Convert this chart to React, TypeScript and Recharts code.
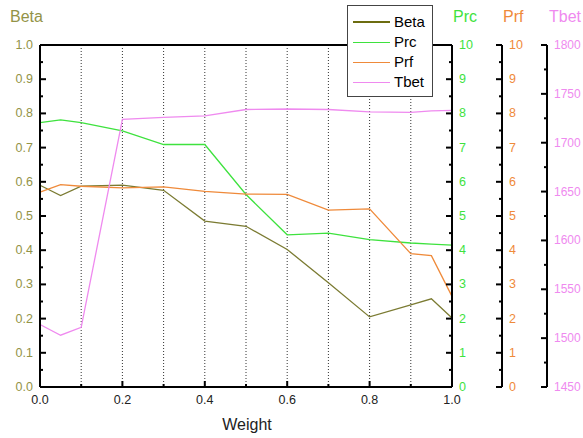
import { LineChart, Line, XAxis, YAxis, CartesianGrid, ReferenceLine, Legend } from "recharts";

const FONT = "'Liberation Sans', Arial, sans-serif";

// data
const weight = [0, 0.05, 0.1, 0.2, 0.3, 0.4, 0.5, 0.6, 0.7, 0.8, 0.9, 0.95, 1.0];
const beta = [0.59, 0.56, 0.587, 0.59, 0.575, 0.485, 0.47, 0.402, 0.305, 0.205, 0.24, 0.258, 0.202];
const prc = [7.73, 7.81, 7.73, 7.49, 7.09, 7.09, 5.63, 4.45, 4.5, 4.31, 4.21, 4.18, 4.15];
const prf = [5.7, 5.92, 5.87, 5.82, 5.85, 5.72, 5.64, 5.63, 5.17, 5.21, 3.9, 3.84, 2.65];
const tbet = [1514, 1503, 1511, 1724, 1726, 1727.5, 1734, 1734.5, 1734, 1731.5, 1731, 1732.5, 1733];

const weightTicks = [0, 0.1, 0.2, 0.3, 0.4, 0.5, 0.6, 0.7, 0.8, 0.9, 1.0];
const betaTicks = [0, 0.05, 0.1, 0.15, 0.2, 0.25, 0.3, 0.35, 0.4, 0.45, 0.5, 0.55, 0.6, 0.65, 0.7, 0.75, 0.8, 0.85, 0.9, 0.95, 1.0];
const prTicks = [0, 0.5, 1, 1.5, 2, 2.5, 3, 3.5, 4, 4.5, 5, 5.5, 6, 6.5, 7, 7.5, 8, 8.5, 9, 9.5, 10];
const tbetTicks = [1450, 1475, 1500, 1525, 1550, 1575, 1600, 1625, 1650, 1675, 1700, 1725, 1750, 1775, 1800];

const OLIVE = "#7b7b32";
const OLIVE_TEXT = "#939347";
const GREEN = "#3ee23e";
const ORANGE = "#ef8a3a";
const VIOLET = "#ef8aef";

const series = [
  { key: "beta", name: "Beta", color: OLIVE, axis: "beta", legendWidth: 2.5, legendColor: "#6c6c10" },
  { key: "prc", name: "Prc", color: GREEN, axis: "prc", legendWidth: 1, legendColor: GREEN },
  { key: "prf", name: "Prf", color: ORANGE, axis: "prf", legendWidth: 1, legendColor: ORANGE },
  { key: "tbet", name: "Tbet", color: VIOLET, axis: "tbet", legendWidth: 1, legendColor: VIOLET },
];

const data = weight.map((w, i) => ({ w, beta: beta[i], prc: prc[i], prf: prf[i], tbet: tbet[i] }));

const isMajor = (v: number, step: number) => Math.abs(v / step - Math.round(v / step)) < 1e-6;

function leftTick(p: any) {
  const v = p.payload.value;
  const major = isMajor(v, 0.1);
  return (
    <g>
      <line x1={p.x} x2={p.x + (major ? 6 : 3)} y1={p.y} y2={p.y} stroke="#000" strokeWidth={2} />
      {major && (
        <text x={p.x - 7} y={p.y + 4} fill={OLIVE_TEXT} fontSize={12.5} fontFamily={FONT} textAnchor="end">
          {v.toFixed(1)}
        </text>
      )}
    </g>
  );
}

function rightTick(color: string, step: number, size = 12.5) {
  return (p: any) => {
    const v = p.payload.value;
    const major = isMajor(v, step);
    return (
      <g>
        <line x1={p.x - (major ? 6 : 3)} x2={p.x} y1={p.y} y2={p.y} stroke="#000" strokeWidth={2} />
        {major && (
          <text x={p.x + 7} y={p.y + 4} fill={color} fontSize={size} fontFamily={FONT} textAnchor="start">
            {v}
          </text>
        )}
      </g>
    );
  };
}

function bottomTick(p: any) {
  const v = p.payload.value;
  const major = isMajor(v, 0.2);
  return (
    <g>
      <line x1={p.x} x2={p.x} y1={p.y - (major ? 6 : 3)} y2={p.y} stroke="#000" strokeWidth={2} />
      {major && (
        <text x={p.x} y={p.y + 17} fill="#222" fontSize={12.5} fontFamily={FONT} textAnchor="middle">
          {v.toFixed(1)}
        </text>
      )}
    </g>
  );
}

function AxisTitle({ tx, ty, color, text, anchor = "start" }: any) {
  return (
    <text x={tx} y={ty} fill={color} fontSize={16} fontFamily={FONT} textAnchor={anchor}>
      {text}
    </text>
  );
}

function LegendBox() {
  return (
    <div
      style={{
        width: 86,
        height: 92,
        border: "1px solid #444",
        background: "#fff",
        boxSizing: "border-box",
        paddingTop: 6,
        fontFamily: FONT,
        fontSize: 15,
      }}
    >
      {series.map((s) => (
        <div key={s.key} style={{ display: "flex", alignItems: "center", height: 20 }}>
          <div style={{ width: 37, marginLeft: 5, borderTop: `${s.legendWidth}px solid ${s.legendColor}` }} />
          <span style={{ marginLeft: 4, color: "#000", lineHeight: "20px" }}>{s.name}</span>
        </div>
      ))}
    </div>
  );
}

export default function App() {
  return (
    <div>
      <style>{"body{margin:0}"}</style>
      <LineChart width={583} height={438} data={data} margin={{ top: 45, right: 0, bottom: 0, left: 0 }}>
        <CartesianGrid horizontal={false} yAxisId="beta" stroke="#333" strokeDasharray="1 2" />
        <XAxis
          dataKey="w"
          type="number"
          domain={[0, 1]}
          ticks={weightTicks}
          interval={0}
          height={51}
          tickSize={0}
          tickMargin={0}
          tickLine={false}
          tick={bottomTick}
          axisLine={{ stroke: "#000", strokeWidth: 2 }}
          label={<AxisTitle tx={247} ty={430} color="#222" text="Weight" anchor="middle" />}
        />
        <YAxis
          yAxisId="beta"
          domain={[0, 1]}
          ticks={betaTicks}
          interval={0}
          width={40}
          tickSize={0}
          tickMargin={0}
          tickLine={false}
          tick={leftTick}
          axisLine={{ stroke: "#000", strokeWidth: 2 }}
          label={<AxisTitle tx={10} ty={22} color={OLIVE_TEXT} text="Beta" />}
        />
        <YAxis
          yAxisId="prc"
          orientation="right"
          domain={[0, 10]}
          ticks={prTicks}
          interval={0}
          width={50}
          tickSize={0}
          tickMargin={0}
          tickLine={false}
          tick={rightTick(GREEN, 1)}
          axisLine={{ stroke: "#000", strokeWidth: 2 }}
          label={<AxisTitle tx={453} ty={22} color={GREEN} text="Prc" />}
        />
        <YAxis
          yAxisId="prf"
          orientation="right"
          domain={[0, 10]}
          ticks={prTicks}
          interval={0}
          width={45}
          tickSize={0}
          tickMargin={0}
          tickLine={false}
          tick={rightTick(ORANGE, 1)}
          axisLine={{ stroke: "#000", strokeWidth: 2 }}
          label={<AxisTitle tx={503} ty={22} color={ORANGE} text="Prf" />}
        />
        <YAxis
          yAxisId="tbet"
          orientation="right"
          domain={[1450, 1800]}
          ticks={tbetTicks}
          interval={0}
          width={36}
          tickSize={0}
          tickMargin={0}
          tickLine={false}
          tick={rightTick(VIOLET, 50, 12)}
          axisLine={{ stroke: "#000", strokeWidth: 2 }}
          label={<AxisTitle tx={549} ty={22} color={VIOLET} text="Tbet" />}
        />
        <ReferenceLine y={1} yAxisId="beta" stroke="#000" strokeWidth={2} />
        {series.map((s) => (
          <Line
            key={s.key}
            yAxisId={s.axis}
            dataKey={s.key}
            name={s.name}
            type="linear"
            stroke={s.color}
            strokeWidth={1.3}
            dot={false}
            isAnimationActive={false}
          />
        ))}
        <Legend
          layout="vertical"
          align="center"
          verticalAlign="middle"
          content={<LegendBox />}
          wrapperStyle={{ left: 347, top: 5, width: 86, height: 92 }}
        />
      </LineChart>
    </div>
  );
}
